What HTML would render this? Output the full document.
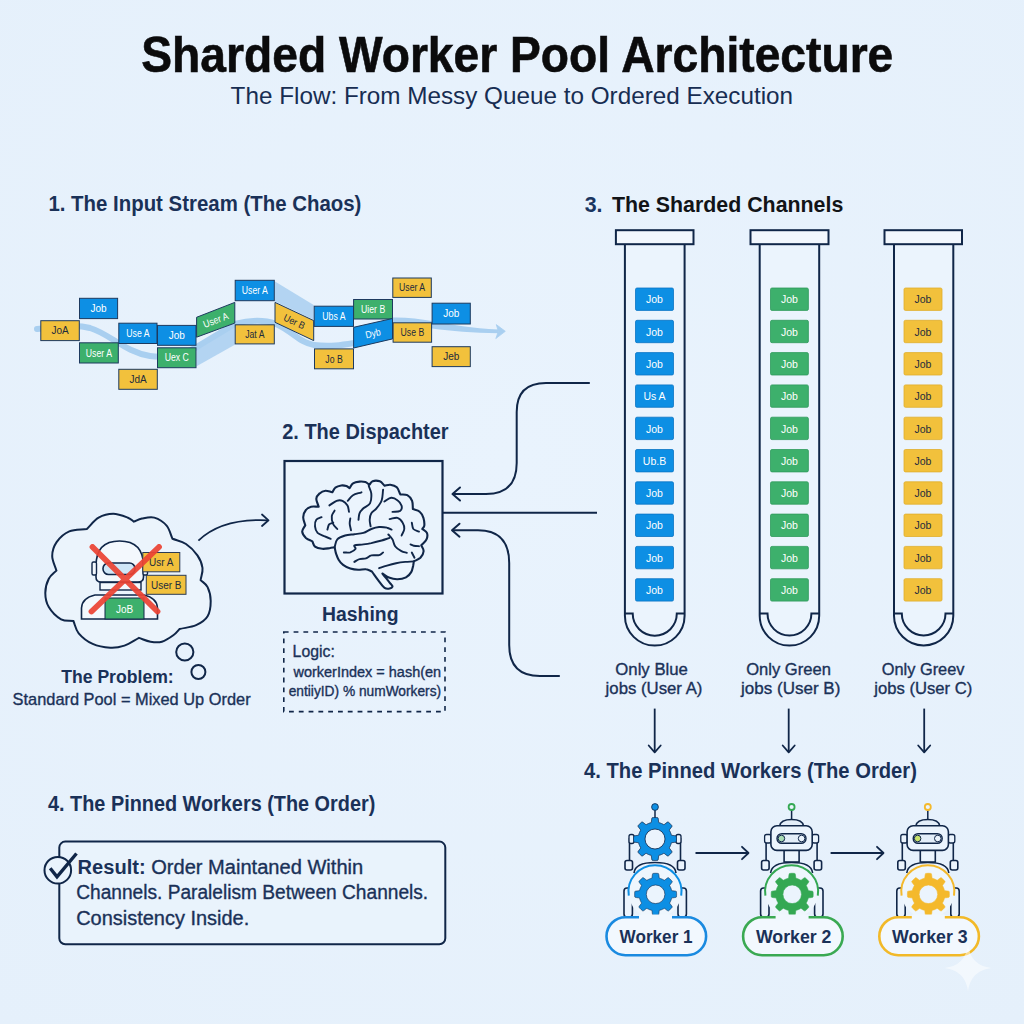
<!DOCTYPE html>
<html><head><meta charset="utf-8"><title>Sharded Worker Pool Architecture</title>
<style>
html,body{margin:0;padding:0;background:#e7f1fc;}
body{width:1024px;height:1024px;overflow:hidden;}
svg{display:block;font-family:"Liberation Sans",sans-serif;}
</style></head><body>
<svg width="1024" height="1024" viewBox="0 0 1024 1024">
<defs>
<radialGradient id="bgg" cx="50%" cy="45%" r="75%">
<stop offset="0" stop-color="#e9f3fd"/><stop offset="1" stop-color="#e5f0fb"/>
</radialGradient>
</defs>
<rect width="1024" height="1024" fill="url(#bgg)"/>

<text x="141.3" y="71.6" font-size="50.5" font-weight="700" fill="#0b0b0c" textLength="752.0" lengthAdjust="spacingAndGlyphs" stroke="#0b0b0c" stroke-width="0.6">Sharded Worker Pool Architecture</text>
<text x="230.6" y="104.4" font-size="24.5" font-weight="400" fill="#172d52" textLength="562.5" lengthAdjust="spacingAndGlyphs">The Flow: From Messy Queue to Ordered Execution</text>
<text x="48.4" y="211.4" font-size="21.5" font-weight="700" fill="#1a3158" textLength="313.0" lengthAdjust="spacingAndGlyphs">1. The Input Stream (The Chaos)</text>
<text x="584.7" y="211.9" font-size="22.5" font-weight="700" fill="#1a3560" textLength="17.8" lengthAdjust="spacingAndGlyphs">3.</text>
<text x="611.9" y="211.9" font-size="22.5" font-weight="700" fill="#121417" textLength="231.4" lengthAdjust="spacingAndGlyphs">The Sharded Channels</text>
<text x="282.2" y="438.6" font-size="22" font-weight="700" fill="#1a3158" textLength="166.4" lengthAdjust="spacingAndGlyphs">2. The Dispachter</text>
<text x="48" y="810.6" font-size="22" font-weight="700" fill="#1a3158" textLength="327.3" lengthAdjust="spacingAndGlyphs">4. The Pinned Workers (The Order)</text>
<text x="584.1" y="778.3" font-size="22" font-weight="700" fill="#1a3158" textLength="332.8" lengthAdjust="spacingAndGlyphs">4. The Pinned Workers (The Order)</text>
<path d="M196.6,347.2 L234.8,324.8 L234.8,344.7 L196.6,366.3Z" fill="#a9cff0" opacity="0.85"/>
<path d="M275,281.6 L313.7,304.9 L313.7,319.8 L275,301.5Z" fill="#a9cff0" opacity="0.85"/>
<path d="M37,329 C60,327 75,324 90,328 C110,334 125,352 150,356 C170,359 190,352 200,345 L234.8,324 C250,320 265,320 276,324 C292,331 300,343 314,345 C330,347 342,345 354,343" fill="none" stroke="#a9cff0" stroke-width="6" stroke-linecap="round"/>
<path d="M392,317.5 C405,317 420,319 432,321 C452,324.5 472,328.5 498.5,329.6 L498.5,333.2 C472,333 452,331 432,328.5 C420,327 405,325.5 392,325Z" fill="#a9cff0"/>
<path d="M496.3,324.6 L505.3,331.3 L495.8,338.6 L498.3,331.4Z" fill="#a9cff0" stroke="#a9cff0" stroke-width="0.8" stroke-linejoin="round"/>
<rect x="40.8" y="320.7" width="38.5" height="19.9" fill="#f2c13c" stroke="#1d3a5f" stroke-width="1"/>
<text x="60.0" y="334.2" font-size="10" font-weight="400" fill="#1d2b3d" text-anchor="middle">JoA</text>
<rect x="79.5" y="298.3" width="38.1" height="20.3" fill="#0d8fe4" stroke="#1d3a5f" stroke-width="1"/>
<text x="98.5" y="312.1" font-size="10" font-weight="400" fill="#fff" text-anchor="middle">Job</text>
<rect x="79.5" y="342.8" width="38.8" height="20.2" fill="#3db06c" stroke="#1d3a5f" stroke-width="1"/>
<text x="98.9" y="356.5" font-size="10" font-weight="400" fill="#fff" textLength="26.1" lengthAdjust="spacingAndGlyphs" text-anchor="middle">User A</text>
<rect x="118.8" y="323.2" width="38.2" height="20.3" fill="#0d8fe4" stroke="#1d3a5f" stroke-width="1"/>
<text x="137.9" y="337.0" font-size="10" font-weight="400" fill="#fff" textLength="23.2" lengthAdjust="spacingAndGlyphs" text-anchor="middle">Use A</text>
<rect x="118.8" y="369.3" width="38.5" height="20.0" fill="#f2c13c" stroke="#1d3a5f" stroke-width="1"/>
<text x="138.1" y="382.9" font-size="10" font-weight="400" fill="#1d2b3d" text-anchor="middle">JdA</text>
<rect x="157.5" y="325.4" width="38.5" height="19.9" fill="#0d8fe4" stroke="#1d3a5f" stroke-width="1"/>
<text x="176.8" y="339.0" font-size="10" font-weight="400" fill="#fff" text-anchor="middle">Job</text>
<rect x="157.5" y="347.8" width="38.5" height="19.9" fill="#3db06c" stroke="#1d3a5f" stroke-width="1"/>
<text x="176.8" y="361.4" font-size="10" font-weight="400" fill="#fff" textLength="24.2" lengthAdjust="spacingAndGlyphs" text-anchor="middle">Uex C</text>
<path d="M196.6,317.3 L234.8,302.4 L234.8,323.1 L196.6,337.2Z" fill="#3db06c" stroke="#1d3a5f" stroke-width="1"/>
<text x="215.7" y="323.6" font-size="10" fill="#fff" text-anchor="middle" textLength="26.1" lengthAdjust="spacingAndGlyphs" transform="rotate(-21.3 215.7 320.0)">User A</text>
<rect x="235.2" y="280.3" width="39.1" height="20.4" fill="#0d8fe4" stroke="#1d3a5f" stroke-width="1"/>
<text x="254.8" y="294.1" font-size="10" font-weight="400" fill="#fff" textLength="26.1" lengthAdjust="spacingAndGlyphs" text-anchor="middle">User A</text>
<rect x="235.2" y="324.8" width="39.1" height="19.1" fill="#f2c13c" stroke="#1d3a5f" stroke-width="1"/>
<text x="254.8" y="338.0" font-size="10" font-weight="400" fill="#1d2b3d" textLength="19.3" lengthAdjust="spacingAndGlyphs" text-anchor="middle">Jat A</text>
<path d="M275,302.4 L313.7,320.6 L313.7,340.6 L275,322.3Z" fill="#f2c13c" stroke="#1d3a5f" stroke-width="1"/>
<text x="294.4" y="325.1" font-size="10" fill="#1d2b3d" text-anchor="middle" textLength="22.2" lengthAdjust="spacingAndGlyphs" transform="rotate(25.2 294.4 321.5)">Uer B</text>
<rect x="314.2" y="306.2" width="39.3" height="20.2" fill="#0d8fe4" stroke="#1d3a5f" stroke-width="1"/>
<text x="333.9" y="319.9" font-size="10" font-weight="400" fill="#fff" textLength="23.2" lengthAdjust="spacingAndGlyphs" text-anchor="middle">Ubs A</text>
<rect x="314.5" y="348.9" width="39.0" height="19.9" fill="#f2c13c" stroke="#1d3a5f" stroke-width="1"/>
<text x="334.0" y="362.5" font-size="10" font-weight="400" fill="#1d2b3d" textLength="17.4" lengthAdjust="spacingAndGlyphs" text-anchor="middle">Jo B</text>
<rect x="353.6" y="299.5" width="38.9" height="19.5" fill="#3db06c" stroke="#1d3a5f" stroke-width="1"/>
<text x="373.1" y="312.9" font-size="10" font-weight="400" fill="#fff" textLength="24.2" lengthAdjust="spacingAndGlyphs" text-anchor="middle">Uier B</text>
<path d="M353.6,327.3 L392.5,318.5 L392.5,338.9 L353.6,348Z" fill="#0d8fe4" stroke="#1d3a5f" stroke-width="1"/>
<text x="373.0" y="336.8" font-size="10" fill="#fff" text-anchor="middle" textLength="15.5" lengthAdjust="spacingAndGlyphs" transform="rotate(-12.7 373.0 333.2)">Dyb</text>
<rect x="392.8" y="278" width="38.5" height="19.4" fill="#f2c13c" stroke="#1d3a5f" stroke-width="1"/>
<text x="412.1" y="291.3" font-size="10" font-weight="400" fill="#1d2b3d" textLength="26.1" lengthAdjust="spacingAndGlyphs" text-anchor="middle">User A</text>
<rect x="393.1" y="322.8" width="38.5" height="19.4" fill="#f2c13c" stroke="#1d3a5f" stroke-width="1"/>
<text x="412.4" y="336.1" font-size="10" font-weight="400" fill="#1d2b3d" textLength="23.7" lengthAdjust="spacingAndGlyphs" text-anchor="middle">Use B</text>
<rect x="432.1" y="303.2" width="38.2" height="20.8" fill="#0d8fe4" stroke="#1d3a5f" stroke-width="1"/>
<text x="451.2" y="317.2" font-size="10" font-weight="400" fill="#fff" text-anchor="middle">Job</text>
<rect x="432.1" y="346.7" width="38.2" height="19.9" fill="#f2c13c" stroke="#1d3a5f" stroke-width="1"/>
<text x="451.2" y="360.2" font-size="10" font-weight="400" fill="#1d2b3d" text-anchor="middle">Jeb</text>
<path d="M86.9,528.9 C90.8,525.2 94.2,520.2 98.6,517.7 C103.0,515.2 108.3,513.8 113.2,513.8 C118.1,513.8 124.5,516.4 127.9,517.7 C131.3,519.0 131.8,520.3 133.8,521.6 C136.5,520.6 138.6,519.3 142,518.6 C145.4,517.9 150.2,516.4 154.3,517.6 C158.4,518.8 163.6,522.1 166.6,525.6 C169.6,529.1 170.5,534.4 172.5,538.8 C177.0,540.5 181.8,541.2 186,544 C190.2,546.8 194.7,551.4 197.4,555.4 C200.2,559.4 202.0,563.9 202.5,568 C203.0,572.1 201.2,576.1 200.6,580.1 C202.9,582.4 205.9,583.6 207.6,587.1 C209.3,590.6 210.7,596.2 210.7,601.1 C210.7,606.0 210.0,612.3 207.6,616.3 C205.2,620.3 200.8,623.1 196.1,625.2 C191.4,627.3 185.1,627.7 179.6,629 C177.5,631.1 176.2,633.2 173.3,635.3 C170.4,637.4 165.7,640.6 161.9,641.7 C158.1,642.8 154.3,642.3 150.5,641.7 C146.7,641.1 142.8,639.2 139,637.9 C134.1,640.5 129.2,644.0 124.4,645.6 C119.6,647.2 115.6,648.0 110.3,647.7 C105.0,647.4 98.0,646.3 92.7,643.9 C87.4,641.5 81.9,637.1 78.7,633.3 C75.5,629.5 75.2,625.1 73.4,621 C69.3,620.4 65.2,621.6 61.1,619.3 C57.0,617.0 51.4,611.4 48.8,607 C46.2,602.6 45.3,597.6 45.3,592.9 C45.3,588.2 46.9,582.5 48.8,578.8 C50.6,575.1 53.9,573.3 56.4,570.6 C55.0,565.7 52.2,560.8 52.2,556 C52.2,551.2 53.8,546.2 56.6,542.1 C59.5,538.0 64.2,533.6 69.3,531.4 C74.3,529.2 81.0,529.7 86.9,528.9Z" fill="#ebf4fc" stroke="#102648" stroke-width="2" stroke-linejoin="miter"/>
<circle cx="184.8" cy="652" r="8.6" fill="none" stroke="#102648" stroke-width="2"/>
<circle cx="198.4" cy="672" r="7" fill="none" stroke="#102648" stroke-width="2"/>
<path d="M81.5,619 L81.5,608 Q82,598 95,595 L144,595 Q157,598 157.5,608 L157.5,619Z" fill="#f3f8fd" stroke="#102648" stroke-width="1.6"/>
<path d="M96,566 Q96,541 119.5,541 Q143.5,541 143.5,566 L143.5,577 Q143.5,582 138,582 L101,582 Q96,582 96,577Z" fill="#f3f8fd" stroke="#102648" stroke-width="1.6"/>
<rect x="103" y="563" width="32" height="11.5" rx="5.5" fill="#cfe6f7" stroke="#102648" stroke-width="1.6"/>
<rect x="92" y="562" width="4.5" height="13" rx="1.5" fill="#f3f8fd" stroke="#102648" stroke-width="1.4"/>
<rect x="143" y="562" width="4.5" height="13" rx="1.5" fill="#f3f8fd" stroke="#102648" stroke-width="1.4"/>
<rect x="100" y="582.5" width="41" height="7.5" fill="#f3f8fd" stroke="#102648" stroke-width="1.4"/>
<rect x="105" y="598" width="39" height="21" fill="#3db06c" stroke="#102648" stroke-width="1"/>
<text x="124.5" y="612.5" font-size="10" font-weight="400" fill="#fff" text-anchor="middle">JoB</text>
<rect x="142.8" y="552.5" width="37" height="19.3" fill="#f2c13c" stroke="#2a3b55" stroke-width="1"/>
<text x="161.3" y="566" font-size="10" font-weight="400" fill="#1d2b3d" text-anchor="middle">Usr A</text>
<rect x="146.3" y="575.3" width="39.7" height="19" fill="#f2c13c" stroke="#2a3b55" stroke-width="1"/>
<text x="166.2" y="588.8" font-size="10" font-weight="400" fill="#1d2b3d" text-anchor="middle">User B</text>
<g stroke="#ec4434" stroke-width="5.8" stroke-linecap="round" opacity="0.93"><line x1="92.5" y1="547" x2="157.5" y2="611.5"/><line x1="159" y1="547" x2="91.5" y2="611.5"/></g>
<text x="61.2" y="682.9" font-size="18" font-weight="700" fill="#1a3158" textLength="112.5" lengthAdjust="spacingAndGlyphs">The Problem:</text>
<text x="12.6" y="705" font-size="17" font-weight="400" fill="#1a3158" textLength="238.0" lengthAdjust="spacingAndGlyphs" stroke="#1a3158" stroke-width="0.35">Standard Pool = Mixed Up Order</text>
<path d="M198.4,540.6 Q222,518 268,520.3" fill="none" stroke="#102648" stroke-width="1.8"/>
<path d="M262,514.5 L268.5,520.3 L262,526" fill="none" stroke="#102648" stroke-width="1.8" stroke-linecap="round" stroke-linejoin="round"/>
<rect x="284.5" y="461" width="158" height="132.5" fill="#e9f3fc" stroke="#102648" stroke-width="2.2"/>
<text x="322" y="620.5" font-size="19.5" font-weight="700" fill="#1a3158" textLength="76.5" lengthAdjust="spacingAndGlyphs">Hashing</text>
<rect x="283.8" y="632" width="161.2" height="79.6" fill="none" stroke="#102648" stroke-width="1.6" stroke-dasharray="4.8 5"/>
<text x="292.6" y="656.7" font-size="16.5" font-weight="400" fill="#1a3158" textLength="42.2" lengthAdjust="spacingAndGlyphs" stroke="#1a3158" stroke-width="0.35">Logic:</text>
<text x="293.5" y="676.7" font-size="14" font-weight="400" fill="#1a3158" textLength="147.6" lengthAdjust="spacingAndGlyphs" stroke="#1a3158" stroke-width="0.35">workerIndex = hash(en</text>
<text x="288.7" y="696" font-size="14" font-weight="400" fill="#1a3158" textLength="152.4" lengthAdjust="spacingAndGlyphs" stroke="#1a3158" stroke-width="0.35">entiiyID) % numWorkers)</text>
<path d="M305.3,525.3 C304.6,522.6 303.1,519.7 303.2,517.2 C303.3,514.6 304.5,511.7 305.9,510.0 C307.2,508.2 308.9,507.3 311.1,506.7 C313.2,506.2 316.1,506.7 318.7,506.7 C317.9,504.1 316.2,501.1 316.3,498.9 C316.5,496.6 318.1,494.7 319.6,493.4 C321.1,492.0 323.4,490.9 325.5,490.7 C327.6,490.6 330.0,491.8 332.3,492.3 C333.3,490.8 333.8,488.9 335.3,487.7 C336.8,486.6 339.3,485.8 341.2,485.5 C343.0,485.2 345.0,485.6 346.4,486.0 C347.8,486.5 348.5,487.4 349.6,488.1 C350.7,486.6 351.3,484.5 353.0,483.4 C354.6,482.3 357.4,481.8 359.5,481.6 C361.6,481.4 363.7,481.6 365.4,482.1 C367.0,482.6 368.1,483.9 369.4,484.7 C370.5,483.6 370.9,481.8 372.6,481.2 C374.3,480.6 377.8,480.6 379.8,481.3 C381.8,482.1 383.0,484.3 384.6,485.8 C386.5,485.4 388.2,484.5 390.3,484.7 C392.3,485.0 395.1,485.7 396.8,487.3 C398.5,489.0 399.2,492.1 400.3,494.4 C402.6,494.7 405.3,494.1 407.3,495.2 C409.2,496.3 411.2,498.5 412.1,500.8 C413.0,503.1 412.6,506.3 412.9,509.1 C415.2,509.9 418.0,510.2 419.7,511.7 C421.4,513.1 422.6,515.5 423.4,517.8 C424.1,520.2 424.5,523.8 424.3,525.7 C424.1,527.5 423.0,527.9 422.3,529.0 C423.8,530.3 426.2,531.1 426.9,532.9 C427.6,534.6 427.4,537.4 426.5,539.4 C425.6,541.5 423.0,543.4 421.3,545.3 C422.1,547.3 423.8,549.1 423.6,551.2 C423.5,553.3 422.0,556.0 420.4,557.7 C418.7,559.4 416.0,560.2 413.8,561.4 C413.6,562.8 413.6,563.8 413.2,565.6 C412.7,567.4 412.4,570.2 411.2,572.1 C410.0,574.1 408.2,576.2 406.0,577.4 C403.7,578.6 400.3,579.3 397.5,579.3 C394.6,579.4 391.5,578.6 388.9,577.6 C386.4,576.7 384.6,574.8 382.4,573.5 C384.8,576.5 387.9,580.5 389.6,582.6 C391.3,584.7 392.5,585.3 392.5,586.3 C392.5,587.3 390.9,588.2 389.6,588.5 C388.3,588.8 386.5,589.2 384.6,587.8 C382.8,586.5 380.6,583.4 378.5,580.6 C376.4,577.9 374.1,574.5 371.9,571.5 C370.0,570.7 368.3,569.5 366.0,569.3 C363.8,569.0 360.8,569.9 358.2,569.8 C355.6,569.7 352.9,569.3 350.3,568.5 C347.8,567.7 345.1,566.4 343.1,564.9 C341.2,563.5 339.8,561.7 338.6,559.7 C337.4,557.7 336.6,555.2 335.9,553.2 C335.3,551.1 335.1,549.2 334.6,547.3 C332.9,547.6 331.5,547.9 329.4,548.2 C327.3,548.5 324.6,549.1 322.2,548.8 C319.8,548.6 316.6,547.9 315.0,546.6 C313.4,545.4 313.3,543.1 312.4,541.4 C310.2,540.2 307.6,539.5 305.9,537.9 C304.2,536.2 302.3,533.7 302.2,531.6 C302.1,529.5 304.3,527.4 305.3,525.3Z" fill="#ebf4fd" stroke="#102648" stroke-width="2.1" stroke-linejoin="round"/>
<path d="M334.6,547.3 C335.5,544.7 335.5,541.4 337.3,539.4 C339.0,537.5 342.3,536.4 345.1,535.5 C347.9,534.6 351.2,534.6 354.3,534.2 C357.3,533.8 360.6,533.8 363.4,532.9 C366.3,532.0 368.7,529.9 371.3,529.0 C373.9,528.0 376.5,527.2 379.1,527.0 C381.7,526.8 384.9,527.2 387.0,527.7 C389.1,528.1 390.0,529.0 391.6,529.6" fill="none" stroke="#102648" stroke-width="1.9" stroke-linecap="round"/>
<path d="M379.1,568.2 C381.7,567.3 384.1,566.4 387.0,565.6 C389.8,564.8 393.1,563.9 396.1,563.2 C399.2,562.6 402.4,562.2 405.3,561.9 C408.2,561.6 411.0,561.6 413.8,561.4" fill="none" stroke="#102648" stroke-width="1.9" stroke-linecap="round"/>
<path d="M343.8,552.5 C346.0,552.4 348.4,552.9 350.3,552.3 C352.3,551.6 354.9,550.0 355.6,548.8 C356.3,547.7 353.2,546.1 354.5,545.3 C355.8,544.6 360.6,544.8 363.4,544.4 C366.2,544.0 368.2,543.7 371.3,543.1 C374.3,542.4 378.7,541.3 381.7,540.5 C384.8,539.6 387.0,538.7 389.6,537.9" fill="none" stroke="#102648" stroke-width="1.9" stroke-linecap="round"/>
<path d="M354.3,561.9 C356.0,561.0 357.5,559.6 359.5,559.1 C361.5,558.5 364.1,559.0 366.0,558.4 C368.0,557.8 369.1,555.9 371.3,555.4 C373.5,554.8 377.2,555.6 379.1,555.1 C381.1,554.7 381.7,553.4 383.1,552.5" fill="none" stroke="#102648" stroke-width="1.9" stroke-linecap="round"/>
<path d="M368.7,485.8 C369.5,488.4 371.1,490.7 371.3,493.6 C371.5,496.6 371.3,501.0 370.0,503.4 C368.7,505.9 365.2,506.6 363.4,508.3 C361.7,509.9 360.3,511.3 359.5,513.3 C358.7,515.2 358.8,517.6 358.5,519.8" fill="none" stroke="#102648" stroke-width="1.9" stroke-linecap="round"/>
<path d="M383.1,489.7 C382.6,493.2 382.8,497.1 381.7,500.2 C380.7,503.3 378.3,506.1 376.5,508.3 C374.8,510.5 372.4,511.3 371.3,513.3 C370.1,515.2 369.8,517.6 369.7,519.8 C369.6,522.0 370.3,524.2 370.6,526.3" fill="none" stroke="#102648" stroke-width="1.9" stroke-linecap="round"/>
<path d="M321.6,517.2 C319.8,518.1 317.4,518.3 316.3,519.8 C315.2,521.3 314.8,524.2 315.0,526.3 C315.2,528.5 316.1,531.2 317.6,532.9 C319.2,534.5 322.0,535.2 324.2,536.2 C326.4,537.1 328.5,537.9 330.7,538.8" fill="none" stroke="#102648" stroke-width="1.9" stroke-linecap="round"/>
<path d="M334.6,510.6 C333.7,512.5 332.0,513.9 331.8,516.1 C331.5,518.4 332.2,521.8 333.1,524.0 C334.0,526.1 335.9,527.3 337.3,529.0" fill="none" stroke="#102648" stroke-width="1.9" stroke-linecap="round"/>
<path d="M327.4,529.6 C328.0,527.9 328.2,525.5 329.1,524.4 C330.1,523.2 331.9,523.2 333.3,522.7" fill="none" stroke="#102648" stroke-width="1.9" stroke-linecap="round"/>
<path d="M347.7,500.8 C349.5,498.9 350.7,496.6 353.0,495.2 C355.2,493.8 358.6,493.3 361.5,492.3" fill="none" stroke="#102648" stroke-width="1.9" stroke-linecap="round"/>
<path d="M329.4,505.4 C331.8,503.9 334.4,501.6 336.6,500.8 C338.8,500.1 340.7,500.1 342.5,500.8 C344.3,501.6 346.4,503.6 347.5,505.4 C348.6,507.3 348.5,509.8 349.0,511.9" fill="none" stroke="#102648" stroke-width="1.9" stroke-linecap="round"/>
<path d="M350.3,518.5 C350.1,520.2 349.6,521.8 349.7,523.7 C349.8,525.7 350.6,528.1 351.0,530.3" fill="none" stroke="#102648" stroke-width="1.9" stroke-linecap="round"/>
<path d="M384.4,501.5 C386.6,500.3 388.9,498.0 391.2,497.8 C393.4,497.6 396.0,499.1 397.7,500.4 C399.5,501.7 401.2,503.9 401.6,505.7 C402.0,507.4 401.6,509.9 400.1,510.9 C398.5,511.9 395.0,511.6 392.5,511.9" fill="none" stroke="#102648" stroke-width="1.9" stroke-linecap="round"/>
<path d="M389.6,519.1 C392.2,518.7 395.3,517.2 397.5,517.8 C399.6,518.4 401.6,520.8 402.7,522.7 C403.8,524.5 404.4,526.8 404.3,529.0 C404.1,531.1 402.5,533.3 401.6,535.5" fill="none" stroke="#102648" stroke-width="1.9" stroke-linecap="round"/>
<path d="M411.8,522.7 C412.4,524.8 412.2,527.5 413.4,529.0 C414.6,530.4 417.2,530.7 419.0,531.6" fill="none" stroke="#102648" stroke-width="1.9" stroke-linecap="round"/>
<path d="M388.3,534.5 C389.7,536.1 391.3,537.5 392.5,539.4 C393.6,541.4 393.6,544.3 395.1,546.2 C396.6,548.2 399.4,550.1 401.4,551.2 C403.3,552.3 405.0,552.3 406.9,552.8" fill="none" stroke="#102648" stroke-width="1.9" stroke-linecap="round"/>
<path d="M410.5,544.4 C411.6,544.8 412.4,545.4 413.8,545.7 C415.2,546.0 417.3,546.1 419.0,546.2" fill="none" stroke="#102648" stroke-width="1.9" stroke-linecap="round"/>
<path d="M411.8,552.5 C412.7,554.3 413.6,556.0 414.5,557.7" fill="none" stroke="#102648" stroke-width="1.9" stroke-linecap="round"/>
<path d="M589.8,383 L546,383 Q516.7,383 516.7,412 L516.7,463 Q516.7,494 486,494 L453,494" fill="none" stroke="#102648" stroke-width="2"/>
<path d="M460,487.5 L452.5,494 L460,500.5" fill="none" stroke="#102648" stroke-width="2" stroke-linecap="round" stroke-linejoin="round"/>
<line x1="443" y1="512.8" x2="597" y2="512.8" stroke="#102648" stroke-width="2"/>
<path d="M559.8,676 L540,676 Q509.2,676 509.2,645 L509.2,563 Q509.2,530.2 478,530.2 L452,530.2" fill="none" stroke="#102648" stroke-width="2"/>
<path d="M459.5,523.7 L452,530.2 L459.5,536.7" fill="none" stroke="#102648" stroke-width="2" stroke-linecap="round" stroke-linejoin="round"/>
<path d="M624.9,244 L624.9,615.8 A29.85,29.85 0 0 0 684.6,615.8 L684.6,244Z" fill="#ebf4fd" stroke="#102648" stroke-width="2"/>
<path d="M624.9,613.6 L632.70,613.6 A22.05,22.05 0 0 0 676.80,613.6 L684.6,613.6" fill="none" stroke="#102648" stroke-width="2"/>
<rect x="615.9" y="230.2" width="77.6" height="14" fill="#f2f7fd" stroke="#102648" stroke-width="2"/>
<rect x="635.5" y="288.0" width="38.0" height="22.4" rx="1.5" fill="#0d8fe4" stroke="#0a74c4" stroke-width="0.8"/>
<text x="654.5" y="303.3" font-size="10.5" font-weight="400" fill="#fff" text-anchor="middle">Job</text>
<rect x="635.5" y="320.3" width="38.0" height="22.4" rx="1.5" fill="#0d8fe4" stroke="#0a74c4" stroke-width="0.8"/>
<text x="654.5" y="335.6" font-size="10.5" font-weight="400" fill="#fff" text-anchor="middle">Job</text>
<rect x="635.5" y="352.6" width="38.0" height="22.4" rx="1.5" fill="#0d8fe4" stroke="#0a74c4" stroke-width="0.8"/>
<text x="654.5" y="367.9" font-size="10.5" font-weight="400" fill="#fff" text-anchor="middle">Job</text>
<rect x="635.5" y="384.9" width="38.0" height="22.4" rx="1.5" fill="#0d8fe4" stroke="#0a74c4" stroke-width="0.8"/>
<text x="654.5" y="400.2" font-size="10.5" font-weight="400" fill="#fff" text-anchor="middle">Us A</text>
<rect x="635.5" y="417.2" width="38.0" height="22.4" rx="1.5" fill="#0d8fe4" stroke="#0a74c4" stroke-width="0.8"/>
<text x="654.5" y="432.5" font-size="10.5" font-weight="400" fill="#fff" text-anchor="middle">Job</text>
<rect x="635.5" y="449.5" width="38.0" height="22.4" rx="1.5" fill="#0d8fe4" stroke="#0a74c4" stroke-width="0.8"/>
<text x="654.5" y="464.8" font-size="10.5" font-weight="400" fill="#fff" text-anchor="middle">Ub.B</text>
<rect x="635.5" y="481.8" width="38.0" height="22.4" rx="1.5" fill="#0d8fe4" stroke="#0a74c4" stroke-width="0.8"/>
<text x="654.5" y="497.1" font-size="10.5" font-weight="400" fill="#fff" text-anchor="middle">Job</text>
<rect x="635.5" y="514.1" width="38.0" height="22.4" rx="1.5" fill="#0d8fe4" stroke="#0a74c4" stroke-width="0.8"/>
<text x="654.5" y="529.4" font-size="10.5" font-weight="400" fill="#fff" text-anchor="middle">Job</text>
<rect x="635.5" y="546.4" width="38.0" height="22.4" rx="1.5" fill="#0d8fe4" stroke="#0a74c4" stroke-width="0.8"/>
<text x="654.5" y="561.7" font-size="10.5" font-weight="400" fill="#fff" text-anchor="middle">Job</text>
<rect x="635.5" y="578.7" width="38.0" height="22.4" rx="1.5" fill="#0d8fe4" stroke="#0a74c4" stroke-width="0.8"/>
<text x="654.5" y="594.0" font-size="10.5" font-weight="400" fill="#fff" text-anchor="middle">Job</text>
<path d="M759.7,244 L759.7,615.8 A29.75,29.75 0 0 0 819.2,615.8 L819.2,244Z" fill="#ebf4fd" stroke="#102648" stroke-width="2"/>
<path d="M759.7,613.6 L767.50,613.6 A21.95,21.95 0 0 0 811.40,613.6 L819.2,613.6" fill="none" stroke="#102648" stroke-width="2"/>
<rect x="750.5" y="230.2" width="78.0" height="14" fill="#f2f7fd" stroke="#102648" stroke-width="2"/>
<rect x="770.5" y="288.0" width="37.9" height="22.4" rx="1.5" fill="#3db06c" stroke="#2f9a5c" stroke-width="0.8"/>
<text x="789.5" y="303.3" font-size="10.5" font-weight="400" fill="#fff" text-anchor="middle">Job</text>
<rect x="770.5" y="320.3" width="37.9" height="22.4" rx="1.5" fill="#3db06c" stroke="#2f9a5c" stroke-width="0.8"/>
<text x="789.5" y="335.6" font-size="10.5" font-weight="400" fill="#fff" text-anchor="middle">Job</text>
<rect x="770.5" y="352.6" width="37.9" height="22.4" rx="1.5" fill="#3db06c" stroke="#2f9a5c" stroke-width="0.8"/>
<text x="789.5" y="367.9" font-size="10.5" font-weight="400" fill="#fff" text-anchor="middle">Job</text>
<rect x="770.5" y="384.9" width="37.9" height="22.4" rx="1.5" fill="#3db06c" stroke="#2f9a5c" stroke-width="0.8"/>
<text x="789.5" y="400.2" font-size="10.5" font-weight="400" fill="#fff" text-anchor="middle">Job</text>
<rect x="770.5" y="417.2" width="37.9" height="22.4" rx="1.5" fill="#3db06c" stroke="#2f9a5c" stroke-width="0.8"/>
<text x="789.5" y="432.5" font-size="10.5" font-weight="400" fill="#fff" text-anchor="middle">Job</text>
<rect x="770.5" y="449.5" width="37.9" height="22.4" rx="1.5" fill="#3db06c" stroke="#2f9a5c" stroke-width="0.8"/>
<text x="789.5" y="464.8" font-size="10.5" font-weight="400" fill="#fff" text-anchor="middle">Job</text>
<rect x="770.5" y="481.8" width="37.9" height="22.4" rx="1.5" fill="#3db06c" stroke="#2f9a5c" stroke-width="0.8"/>
<text x="789.5" y="497.1" font-size="10.5" font-weight="400" fill="#fff" text-anchor="middle">Job</text>
<rect x="770.5" y="514.1" width="37.9" height="22.4" rx="1.5" fill="#3db06c" stroke="#2f9a5c" stroke-width="0.8"/>
<text x="789.5" y="529.4" font-size="10.5" font-weight="400" fill="#fff" text-anchor="middle">Job</text>
<rect x="770.5" y="546.4" width="37.9" height="22.4" rx="1.5" fill="#3db06c" stroke="#2f9a5c" stroke-width="0.8"/>
<text x="789.5" y="561.7" font-size="10.5" font-weight="400" fill="#fff" text-anchor="middle">Job</text>
<rect x="770.5" y="578.7" width="37.9" height="22.4" rx="1.5" fill="#3db06c" stroke="#2f9a5c" stroke-width="0.8"/>
<text x="789.5" y="594.0" font-size="10.5" font-weight="400" fill="#fff" text-anchor="middle">Job</text>
<path d="M894,244 L894,615.8 A29.65,29.65 0 0 0 953.3,615.8 L953.3,244Z" fill="#ebf4fd" stroke="#102648" stroke-width="2"/>
<path d="M894,613.6 L901.80,613.6 A21.85,21.85 0 0 0 945.50,613.6 L953.3,613.6" fill="none" stroke="#102648" stroke-width="2"/>
<rect x="884.5" y="230.2" width="77.5" height="14" fill="#f2f7fd" stroke="#102648" stroke-width="2"/>
<rect x="904" y="288.0" width="38.0" height="22.4" rx="1.5" fill="#f2c13c" stroke="#e0ad2c" stroke-width="0.8"/>
<text x="923.0" y="303.3" font-size="10.5" font-weight="400" fill="#1d2b3d" text-anchor="middle">Job</text>
<rect x="904" y="320.3" width="38.0" height="22.4" rx="1.5" fill="#f2c13c" stroke="#e0ad2c" stroke-width="0.8"/>
<text x="923.0" y="335.6" font-size="10.5" font-weight="400" fill="#1d2b3d" text-anchor="middle">Job</text>
<rect x="904" y="352.6" width="38.0" height="22.4" rx="1.5" fill="#f2c13c" stroke="#e0ad2c" stroke-width="0.8"/>
<text x="923.0" y="367.9" font-size="10.5" font-weight="400" fill="#1d2b3d" text-anchor="middle">Job</text>
<rect x="904" y="384.9" width="38.0" height="22.4" rx="1.5" fill="#f2c13c" stroke="#e0ad2c" stroke-width="0.8"/>
<text x="923.0" y="400.2" font-size="10.5" font-weight="400" fill="#1d2b3d" text-anchor="middle">Job</text>
<rect x="904" y="417.2" width="38.0" height="22.4" rx="1.5" fill="#f2c13c" stroke="#e0ad2c" stroke-width="0.8"/>
<text x="923.0" y="432.5" font-size="10.5" font-weight="400" fill="#1d2b3d" text-anchor="middle">Job</text>
<rect x="904" y="449.5" width="38.0" height="22.4" rx="1.5" fill="#f2c13c" stroke="#e0ad2c" stroke-width="0.8"/>
<text x="923.0" y="464.8" font-size="10.5" font-weight="400" fill="#1d2b3d" text-anchor="middle">Job</text>
<rect x="904" y="481.8" width="38.0" height="22.4" rx="1.5" fill="#f2c13c" stroke="#e0ad2c" stroke-width="0.8"/>
<text x="923.0" y="497.1" font-size="10.5" font-weight="400" fill="#1d2b3d" text-anchor="middle">Job</text>
<rect x="904" y="514.1" width="38.0" height="22.4" rx="1.5" fill="#f2c13c" stroke="#e0ad2c" stroke-width="0.8"/>
<text x="923.0" y="529.4" font-size="10.5" font-weight="400" fill="#1d2b3d" text-anchor="middle">Job</text>
<rect x="904" y="546.4" width="38.0" height="22.4" rx="1.5" fill="#f2c13c" stroke="#e0ad2c" stroke-width="0.8"/>
<text x="923.0" y="561.7" font-size="10.5" font-weight="400" fill="#1d2b3d" text-anchor="middle">Job</text>
<rect x="904" y="578.7" width="38.0" height="22.4" rx="1.5" fill="#f2c13c" stroke="#e0ad2c" stroke-width="0.8"/>
<text x="923.0" y="594.0" font-size="10.5" font-weight="400" fill="#1d2b3d" text-anchor="middle">Job</text>
<text x="615.3000000000001" y="675.4" font-size="17" font-weight="400" fill="#1a3158" textLength="72.6" lengthAdjust="spacingAndGlyphs" stroke="#1a3158" stroke-width="0.35">Only Blue</text>
<text x="605.6" y="694.1" font-size="17" font-weight="400" fill="#1a3158" textLength="96.8" lengthAdjust="spacingAndGlyphs" stroke="#1a3158" stroke-width="0.35">jobs (User A)</text>
<text x="746.2" y="675.4" font-size="17" font-weight="400" fill="#1a3158" textLength="84.7" lengthAdjust="spacingAndGlyphs" stroke="#1a3158" stroke-width="0.35">Only Green</text>
<text x="741.1" y="694.1" font-size="17" font-weight="400" fill="#1a3158" textLength="99.2" lengthAdjust="spacingAndGlyphs" stroke="#1a3158" stroke-width="0.35">jobs (User B)</text>
<text x="881.7" y="675.4" font-size="17" font-weight="400" fill="#1a3158" textLength="82.8" lengthAdjust="spacingAndGlyphs" stroke="#1a3158" stroke-width="0.35">Only Greev</text>
<text x="874.3000000000001" y="694.1" font-size="17" font-weight="400" fill="#1a3158" textLength="98.0" lengthAdjust="spacingAndGlyphs" stroke="#1a3158" stroke-width="0.35">jobs (User C)</text>
<line x1="654.7" y1="708.6" x2="654.7" y2="752" stroke="#102648" stroke-width="1.8"/>
<path d="M648.7,745.5 L654.7,752.3 L660.7,745.5" fill="none" stroke="#102648" stroke-width="1.8" stroke-linecap="round" stroke-linejoin="round"/>
<line x1="788.7" y1="708.6" x2="788.7" y2="752" stroke="#102648" stroke-width="1.8"/>
<path d="M782.7,745.5 L788.7,752.3 L794.7,745.5" fill="none" stroke="#102648" stroke-width="1.8" stroke-linecap="round" stroke-linejoin="round"/>
<line x1="924.2" y1="708.6" x2="924.2" y2="752" stroke="#102648" stroke-width="1.8"/>
<path d="M918.2,745.5 L924.2,752.3 L930.2,745.5" fill="none" stroke="#102648" stroke-width="1.8" stroke-linecap="round" stroke-linejoin="round"/>
<rect x="624" y="888" width="8.4" height="29" rx="3" fill="#ebf4fd" stroke="#102648" stroke-width="1.6"/>
<rect x="678" y="888" width="8.4" height="29" rx="3" fill="#ebf4fd" stroke="#102648" stroke-width="1.6"/>
<path d="M634,873 Q635,862.5 655,862.5 Q675,862.5 676,873" fill="#ebf4fd" stroke="#102648" stroke-width="1.6"/>
<circle cx="655" cy="892.0" r="26.5" fill="#eef6fd"/>
<path d="M628.8,895.7 A26.5,26.5 0 1 1 681.2,895.7" fill="none" stroke="#0d8fe4" stroke-width="2"/>
<line x1="629.5" y1="838" x2="629.5" y2="861" stroke="#102648" stroke-width="1.6"/>
<rect x="625" y="860.5" width="7.5" height="9.5" rx="2" fill="#ebf4fd" stroke="#102648" stroke-width="1.6"/>
<line x1="680.5" y1="838" x2="680.5" y2="861" stroke="#102648" stroke-width="1.6"/>
<rect x="677.5" y="860.5" width="7.5" height="9.5" rx="2" fill="#ebf4fd" stroke="#102648" stroke-width="1.6"/>
<line x1="655" y1="810" x2="655" y2="818" stroke="#102648" stroke-width="1.5"/>
<circle cx="655" cy="807" r="3.4" fill="#0d8fe4" stroke="#102648" stroke-width="0.8"/>
<rect x="629" y="834.5" width="5" height="9" rx="2" fill="#ebf4fd" stroke="#102648" stroke-width="1.3"/>
<rect x="676" y="834.5" width="5" height="9" rx="2" fill="#ebf4fd" stroke="#102648" stroke-width="1.3"/>
<path d="M676.50,839.00 L676.50,839.28 L676.49,839.56 L676.48,839.84 L676.47,840.13 L676.45,840.41 L676.43,840.69 L676.41,840.97 L676.38,841.25 L676.35,841.53 L676.29,841.80 L675.93,842.04 L675.31,842.22 L674.53,842.36 L673.66,842.46 L672.82,842.54 L672.09,842.63 L671.57,842.75 L671.34,842.92 L671.28,843.14 L671.23,843.35 L671.17,843.56 L671.11,843.77 L671.04,843.98 L670.98,844.19 L670.91,844.40 L670.84,844.61 L670.76,844.81 L670.68,845.02 L670.60,845.23 L670.52,845.43 L670.44,845.63 L670.35,845.83 L670.26,846.03 L670.16,846.23 L670.07,846.43 L669.97,846.63 L669.87,846.82 L669.76,847.02 L669.66,847.21 L669.55,847.40 L669.44,847.59 L669.32,847.78 L669.36,848.06 L669.65,848.52 L670.11,849.09 L670.64,849.75 L671.18,850.44 L671.64,851.09 L671.95,851.66 L672.03,852.07 L671.88,852.31 L671.71,852.53 L671.53,852.75 L671.35,852.96 L671.16,853.18 L670.98,853.39 L670.79,853.59 L670.60,853.80 L670.40,854.00 L670.20,854.20 L670.00,854.40 L669.80,854.60 L669.59,854.79 L669.39,854.98 L669.18,855.16 L668.96,855.35 L668.75,855.53 L668.53,855.71 L668.31,855.88 L668.07,856.03 L667.66,855.95 L667.09,855.64 L666.44,855.18 L665.75,854.64 L665.09,854.11 L664.52,853.65 L664.06,853.36 L663.78,853.32 L663.59,853.44 L663.40,853.55 L663.21,853.66 L663.02,853.76 L662.82,853.87 L662.63,853.97 L662.43,854.07 L662.23,854.16 L662.03,854.26 L661.83,854.35 L661.63,854.44 L661.43,854.52 L661.23,854.60 L661.02,854.68 L660.81,854.76 L660.61,854.84 L660.40,854.91 L660.19,854.98 L659.98,855.04 L659.77,855.11 L659.56,855.17 L659.35,855.23 L659.14,855.28 L658.92,855.34 L658.75,855.57 L658.63,856.09 L658.54,856.82 L658.46,857.66 L658.36,858.53 L658.22,859.31 L658.04,859.93 L657.80,860.29 L657.53,860.35 L657.25,860.38 L656.97,860.41 L656.69,860.43 L656.41,860.45 L656.13,860.47 L655.84,860.48 L655.56,860.49 L655.28,860.50 L655.00,860.50 L654.72,860.50 L654.44,860.49 L654.16,860.48 L653.87,860.47 L653.59,860.45 L653.31,860.43 L653.03,860.41 L652.75,860.38 L652.47,860.35 L652.20,860.29 L651.96,859.93 L651.78,859.31 L651.64,858.53 L651.54,857.66 L651.46,856.82 L651.37,856.09 L651.25,855.57 L651.08,855.34 L650.86,855.28 L650.65,855.23 L650.44,855.17 L650.23,855.11 L650.02,855.04 L649.81,854.98 L649.60,854.91 L649.39,854.84 L649.19,854.76 L648.98,854.68 L648.77,854.60 L648.57,854.52 L648.37,854.44 L648.17,854.35 L647.97,854.26 L647.77,854.16 L647.57,854.07 L647.37,853.97 L647.18,853.87 L646.98,853.76 L646.79,853.66 L646.60,853.55 L646.41,853.44 L646.22,853.32 L645.94,853.36 L645.48,853.65 L644.91,854.11 L644.25,854.64 L643.56,855.18 L642.91,855.64 L642.34,855.95 L641.93,856.03 L641.69,855.88 L641.47,855.71 L641.25,855.53 L641.04,855.35 L640.82,855.16 L640.61,854.98 L640.41,854.79 L640.20,854.60 L640.00,854.40 L639.80,854.20 L639.60,854.00 L639.40,853.80 L639.21,853.59 L639.02,853.39 L638.84,853.18 L638.65,852.96 L638.47,852.75 L638.29,852.53 L638.12,852.31 L637.97,852.07 L638.05,851.66 L638.36,851.09 L638.82,850.44 L639.36,849.75 L639.89,849.09 L640.35,848.52 L640.64,848.06 L640.68,847.78 L640.56,847.59 L640.45,847.40 L640.34,847.21 L640.24,847.02 L640.13,846.82 L640.03,846.63 L639.93,846.43 L639.84,846.23 L639.74,846.03 L639.65,845.83 L639.56,845.63 L639.48,845.43 L639.40,845.23 L639.32,845.02 L639.24,844.81 L639.16,844.61 L639.09,844.40 L639.02,844.19 L638.96,843.98 L638.89,843.77 L638.83,843.56 L638.77,843.35 L638.72,843.14 L638.66,842.92 L638.43,842.75 L637.91,842.63 L637.18,842.54 L636.34,842.46 L635.47,842.36 L634.69,842.22 L634.07,842.04 L633.71,841.80 L633.65,841.53 L633.62,841.25 L633.59,840.97 L633.57,840.69 L633.55,840.41 L633.53,840.13 L633.52,839.84 L633.51,839.56 L633.50,839.28 L633.50,839.00 L633.50,838.72 L633.51,838.44 L633.52,838.16 L633.53,837.87 L633.55,837.59 L633.57,837.31 L633.59,837.03 L633.62,836.75 L633.65,836.47 L633.71,836.20 L634.07,835.96 L634.69,835.78 L635.47,835.64 L636.34,835.54 L637.18,835.46 L637.91,835.37 L638.43,835.25 L638.66,835.08 L638.72,834.86 L638.77,834.65 L638.83,834.44 L638.89,834.23 L638.96,834.02 L639.02,833.81 L639.09,833.60 L639.16,833.39 L639.24,833.19 L639.32,832.98 L639.40,832.77 L639.48,832.57 L639.56,832.37 L639.65,832.17 L639.74,831.97 L639.84,831.77 L639.93,831.57 L640.03,831.37 L640.13,831.18 L640.24,830.98 L640.34,830.79 L640.45,830.60 L640.56,830.41 L640.68,830.22 L640.64,829.94 L640.35,829.48 L639.89,828.91 L639.36,828.25 L638.82,827.56 L638.36,826.91 L638.05,826.34 L637.97,825.93 L638.12,825.69 L638.29,825.47 L638.47,825.25 L638.65,825.04 L638.84,824.82 L639.02,824.61 L639.21,824.41 L639.40,824.20 L639.60,824.00 L639.80,823.80 L640.00,823.60 L640.20,823.40 L640.41,823.21 L640.61,823.02 L640.82,822.84 L641.04,822.65 L641.25,822.47 L641.47,822.29 L641.69,822.12 L641.93,821.97 L642.34,822.05 L642.91,822.36 L643.56,822.82 L644.25,823.36 L644.91,823.89 L645.48,824.35 L645.94,824.64 L646.22,824.68 L646.41,824.56 L646.60,824.45 L646.79,824.34 L646.98,824.24 L647.18,824.13 L647.37,824.03 L647.57,823.93 L647.77,823.84 L647.97,823.74 L648.17,823.65 L648.37,823.56 L648.57,823.48 L648.77,823.40 L648.98,823.32 L649.19,823.24 L649.39,823.16 L649.60,823.09 L649.81,823.02 L650.02,822.96 L650.23,822.89 L650.44,822.83 L650.65,822.77 L650.86,822.72 L651.08,822.66 L651.25,822.43 L651.37,821.91 L651.46,821.18 L651.54,820.34 L651.64,819.47 L651.78,818.69 L651.96,818.07 L652.20,817.71 L652.47,817.65 L652.75,817.62 L653.03,817.59 L653.31,817.57 L653.59,817.55 L653.87,817.53 L654.16,817.52 L654.44,817.51 L654.72,817.50 L655.00,817.50 L655.28,817.50 L655.56,817.51 L655.84,817.52 L656.13,817.53 L656.41,817.55 L656.69,817.57 L656.97,817.59 L657.25,817.62 L657.53,817.65 L657.80,817.71 L658.04,818.07 L658.22,818.69 L658.36,819.47 L658.46,820.34 L658.54,821.18 L658.63,821.91 L658.75,822.43 L658.92,822.66 L659.14,822.72 L659.35,822.77 L659.56,822.83 L659.77,822.89 L659.98,822.96 L660.19,823.02 L660.40,823.09 L660.61,823.16 L660.81,823.24 L661.02,823.32 L661.23,823.40 L661.43,823.48 L661.63,823.56 L661.83,823.65 L662.03,823.74 L662.23,823.84 L662.43,823.93 L662.63,824.03 L662.82,824.13 L663.02,824.24 L663.21,824.34 L663.40,824.45 L663.59,824.56 L663.78,824.68 L664.06,824.64 L664.52,824.35 L665.09,823.89 L665.75,823.36 L666.44,822.82 L667.09,822.36 L667.66,822.05 L668.07,821.97 L668.31,822.12 L668.53,822.29 L668.75,822.47 L668.96,822.65 L669.18,822.84 L669.39,823.02 L669.59,823.21 L669.80,823.40 L670.00,823.60 L670.20,823.80 L670.40,824.00 L670.60,824.20 L670.79,824.41 L670.98,824.61 L671.16,824.82 L671.35,825.04 L671.53,825.25 L671.71,825.47 L671.88,825.69 L672.03,825.93 L671.95,826.34 L671.64,826.91 L671.18,827.56 L670.64,828.25 L670.11,828.91 L669.65,829.48 L669.36,829.94 L669.32,830.22 L669.44,830.41 L669.55,830.60 L669.66,830.79 L669.76,830.98 L669.87,831.18 L669.97,831.37 L670.07,831.57 L670.16,831.77 L670.26,831.97 L670.35,832.17 L670.44,832.37 L670.52,832.57 L670.60,832.77 L670.68,832.98 L670.76,833.19 L670.84,833.39 L670.91,833.60 L670.98,833.81 L671.04,834.02 L671.11,834.23 L671.17,834.44 L671.23,834.65 L671.28,834.86 L671.34,835.08 L671.57,835.25 L672.09,835.37 L672.82,835.46 L673.66,835.54 L674.53,835.64 L675.31,835.78 L675.93,835.96 L676.29,836.20 L676.35,836.47 L676.38,836.75 L676.41,837.03 L676.43,837.31 L676.45,837.59 L676.47,837.87 L676.48,838.16 L676.49,838.44 L676.50,838.72Z" fill="#0d8fe4" stroke="#102648" stroke-width="0.8" stroke-linejoin="round"/>
<circle cx="655" cy="839" r="10" fill="#ebf4fd" stroke="#102648" stroke-width="0.8"/>
<path d="M676.60,894.30 L676.60,894.57 L676.59,894.85 L676.58,895.12 L676.57,895.40 L676.56,895.67 L676.54,895.95 L676.51,896.22 L676.48,896.50 L676.45,896.77 L676.39,897.04 L676.05,897.27 L675.46,897.45 L674.71,897.58 L673.88,897.69 L673.07,897.77 L672.37,897.86 L671.86,897.98 L671.64,898.15 L671.59,898.36 L671.54,898.57 L671.48,898.78 L671.42,898.99 L671.36,899.19 L671.29,899.40 L671.22,899.60 L671.15,899.81 L671.08,900.01 L671.00,900.21 L670.93,900.41 L670.84,900.61 L670.76,900.81 L670.67,901.01 L670.58,901.21 L670.49,901.40 L670.40,901.60 L670.30,901.79 L670.20,901.98 L670.10,902.17 L670.00,902.36 L669.89,902.55 L669.78,902.74 L669.67,902.92 L669.70,903.20 L669.98,903.64 L670.41,904.20 L670.92,904.83 L671.43,905.49 L671.87,906.12 L672.16,906.67 L672.24,907.07 L672.09,907.30 L671.92,907.52 L671.75,907.73 L671.57,907.94 L671.39,908.15 L671.21,908.35 L671.02,908.55 L670.83,908.76 L670.64,908.95 L670.45,909.15 L670.25,909.34 L670.06,909.53 L669.85,909.72 L669.65,909.91 L669.45,910.09 L669.24,910.27 L669.03,910.45 L668.82,910.62 L668.60,910.79 L668.37,910.94 L667.97,910.86 L667.42,910.57 L666.79,910.13 L666.13,909.62 L665.50,909.11 L664.94,908.68 L664.50,908.40 L664.22,908.37 L664.04,908.48 L663.85,908.59 L663.66,908.70 L663.47,908.80 L663.28,908.90 L663.09,909.00 L662.90,909.10 L662.70,909.19 L662.51,909.28 L662.31,909.37 L662.11,909.46 L661.91,909.54 L661.71,909.63 L661.51,909.70 L661.31,909.78 L661.11,909.85 L660.90,909.92 L660.70,909.99 L660.49,910.06 L660.29,910.12 L660.08,910.18 L659.87,910.24 L659.66,910.29 L659.45,910.34 L659.28,910.56 L659.16,911.07 L659.07,911.77 L658.99,912.58 L658.88,913.41 L658.75,914.16 L658.57,914.75 L658.34,915.09 L658.07,915.15 L657.80,915.18 L657.52,915.21 L657.25,915.24 L656.97,915.26 L656.70,915.27 L656.42,915.28 L656.15,915.29 L655.87,915.30 L655.60,915.30 L655.33,915.30 L655.05,915.29 L654.78,915.28 L654.50,915.27 L654.23,915.26 L653.95,915.24 L653.68,915.21 L653.40,915.18 L653.13,915.15 L652.86,915.09 L652.63,914.75 L652.45,914.16 L652.32,913.41 L652.21,912.58 L652.13,911.77 L652.04,911.07 L651.92,910.56 L651.75,910.34 L651.54,910.29 L651.33,910.24 L651.12,910.18 L650.91,910.12 L650.71,910.06 L650.50,909.99 L650.30,909.92 L650.09,909.85 L649.89,909.78 L649.69,909.70 L649.49,909.63 L649.29,909.54 L649.09,909.46 L648.89,909.37 L648.69,909.28 L648.50,909.19 L648.30,909.10 L648.11,909.00 L647.92,908.90 L647.73,908.80 L647.54,908.70 L647.35,908.59 L647.16,908.48 L646.98,908.37 L646.70,908.40 L646.26,908.68 L645.70,909.11 L645.07,909.62 L644.41,910.13 L643.78,910.57 L643.23,910.86 L642.83,910.94 L642.60,910.79 L642.38,910.62 L642.17,910.45 L641.96,910.27 L641.75,910.09 L641.55,909.91 L641.35,909.72 L641.14,909.53 L640.95,909.34 L640.75,909.15 L640.56,908.95 L640.37,908.76 L640.18,908.55 L639.99,908.35 L639.81,908.15 L639.63,907.94 L639.45,907.73 L639.28,907.52 L639.11,907.30 L638.96,907.07 L639.04,906.67 L639.33,906.12 L639.77,905.49 L640.28,904.83 L640.79,904.20 L641.22,903.64 L641.50,903.20 L641.53,902.92 L641.42,902.74 L641.31,902.55 L641.20,902.36 L641.10,902.17 L641.00,901.98 L640.90,901.79 L640.80,901.60 L640.71,901.40 L640.62,901.21 L640.53,901.01 L640.44,900.81 L640.36,900.61 L640.27,900.41 L640.20,900.21 L640.12,900.01 L640.05,899.81 L639.98,899.60 L639.91,899.40 L639.84,899.19 L639.78,898.99 L639.72,898.78 L639.66,898.57 L639.61,898.36 L639.56,898.15 L639.34,897.98 L638.83,897.86 L638.13,897.77 L637.32,897.69 L636.49,897.58 L635.74,897.45 L635.15,897.27 L634.81,897.04 L634.75,896.77 L634.72,896.50 L634.69,896.22 L634.66,895.95 L634.64,895.67 L634.63,895.40 L634.62,895.12 L634.61,894.85 L634.60,894.57 L634.60,894.30 L634.60,894.03 L634.61,893.75 L634.62,893.48 L634.63,893.20 L634.64,892.93 L634.66,892.65 L634.69,892.38 L634.72,892.10 L634.75,891.83 L634.81,891.56 L635.15,891.33 L635.74,891.15 L636.49,891.02 L637.32,890.91 L638.13,890.83 L638.83,890.74 L639.34,890.62 L639.56,890.45 L639.61,890.24 L639.66,890.03 L639.72,889.82 L639.78,889.61 L639.84,889.41 L639.91,889.20 L639.98,889.00 L640.05,888.79 L640.12,888.59 L640.20,888.39 L640.27,888.19 L640.36,887.99 L640.44,887.79 L640.53,887.59 L640.62,887.39 L640.71,887.20 L640.80,887.00 L640.90,886.81 L641.00,886.62 L641.10,886.43 L641.20,886.24 L641.31,886.05 L641.42,885.86 L641.53,885.68 L641.50,885.40 L641.22,884.96 L640.79,884.40 L640.28,883.77 L639.77,883.11 L639.33,882.48 L639.04,881.93 L638.96,881.53 L639.11,881.30 L639.28,881.08 L639.45,880.87 L639.63,880.66 L639.81,880.45 L639.99,880.25 L640.18,880.05 L640.37,879.84 L640.56,879.65 L640.75,879.45 L640.95,879.26 L641.14,879.07 L641.35,878.88 L641.55,878.69 L641.75,878.51 L641.96,878.33 L642.17,878.15 L642.38,877.98 L642.60,877.81 L642.83,877.66 L643.23,877.74 L643.78,878.03 L644.41,878.47 L645.07,878.98 L645.70,879.49 L646.26,879.92 L646.70,880.20 L646.98,880.23 L647.16,880.12 L647.35,880.01 L647.54,879.90 L647.73,879.80 L647.92,879.70 L648.11,879.60 L648.30,879.50 L648.50,879.41 L648.69,879.32 L648.89,879.23 L649.09,879.14 L649.29,879.06 L649.49,878.97 L649.69,878.90 L649.89,878.82 L650.09,878.75 L650.30,878.68 L650.50,878.61 L650.71,878.54 L650.91,878.48 L651.12,878.42 L651.33,878.36 L651.54,878.31 L651.75,878.26 L651.92,878.04 L652.04,877.53 L652.13,876.83 L652.21,876.02 L652.32,875.19 L652.45,874.44 L652.63,873.85 L652.86,873.51 L653.13,873.45 L653.40,873.42 L653.68,873.39 L653.95,873.36 L654.23,873.34 L654.50,873.33 L654.78,873.32 L655.05,873.31 L655.33,873.30 L655.60,873.30 L655.87,873.30 L656.15,873.31 L656.42,873.32 L656.70,873.33 L656.97,873.34 L657.25,873.36 L657.52,873.39 L657.80,873.42 L658.07,873.45 L658.34,873.51 L658.57,873.85 L658.75,874.44 L658.88,875.19 L658.99,876.02 L659.07,876.83 L659.16,877.53 L659.28,878.04 L659.45,878.26 L659.66,878.31 L659.87,878.36 L660.08,878.42 L660.29,878.48 L660.49,878.54 L660.70,878.61 L660.90,878.68 L661.11,878.75 L661.31,878.82 L661.51,878.90 L661.71,878.97 L661.91,879.06 L662.11,879.14 L662.31,879.23 L662.51,879.32 L662.70,879.41 L662.90,879.50 L663.09,879.60 L663.28,879.70 L663.47,879.80 L663.66,879.90 L663.85,880.01 L664.04,880.12 L664.22,880.23 L664.50,880.20 L664.94,879.92 L665.50,879.49 L666.13,878.98 L666.79,878.47 L667.42,878.03 L667.97,877.74 L668.37,877.66 L668.60,877.81 L668.82,877.98 L669.03,878.15 L669.24,878.33 L669.45,878.51 L669.65,878.69 L669.85,878.88 L670.06,879.07 L670.25,879.26 L670.45,879.45 L670.64,879.65 L670.83,879.84 L671.02,880.05 L671.21,880.25 L671.39,880.45 L671.57,880.66 L671.75,880.87 L671.92,881.08 L672.09,881.30 L672.24,881.53 L672.16,881.93 L671.87,882.48 L671.43,883.11 L670.92,883.77 L670.41,884.40 L669.98,884.96 L669.70,885.40 L669.67,885.68 L669.78,885.86 L669.89,886.05 L670.00,886.24 L670.10,886.43 L670.20,886.62 L670.30,886.81 L670.40,887.00 L670.49,887.20 L670.58,887.39 L670.67,887.59 L670.76,887.79 L670.84,887.99 L670.93,888.19 L671.00,888.39 L671.08,888.59 L671.15,888.79 L671.22,889.00 L671.29,889.20 L671.36,889.41 L671.42,889.61 L671.48,889.82 L671.54,890.03 L671.59,890.24 L671.64,890.45 L671.86,890.62 L672.37,890.74 L673.07,890.83 L673.88,890.91 L674.71,891.02 L675.46,891.15 L676.05,891.33 L676.39,891.56 L676.45,891.83 L676.48,892.10 L676.51,892.38 L676.54,892.65 L676.56,892.93 L676.57,893.20 L676.58,893.48 L676.59,893.75 L676.60,894.03Z" fill="#0d8fe4" stroke="#102648" stroke-width="0.6" stroke-linejoin="round"/>
<circle cx="655.6" cy="894.3" r="9.3" fill="#ebf4fd" stroke="#102648" stroke-width="0.6"/>
<rect x="606.5" y="917.2" width="99.6" height="38" rx="19" fill="#f2f8fe" stroke="#1a8ae0" stroke-width="2.6"/>
<rect x="639" y="914.5" width="33" height="6" fill="#f0f7fe"/>
<rect x="760.6" y="888" width="8.4" height="29" rx="3" fill="#ebf4fd" stroke="#102648" stroke-width="1.6"/>
<rect x="814.6" y="888" width="8.4" height="29" rx="3" fill="#ebf4fd" stroke="#102648" stroke-width="1.6"/>
<path d="M770.6,873 Q771.6,862.5 791.6,862.5 Q811.6,862.5 812.6,873" fill="#ebf4fd" stroke="#102648" stroke-width="1.6"/>
<circle cx="791.6" cy="892.0" r="26.5" fill="#eef6fd"/>
<path d="M765.4,895.7 A26.5,26.5 0 1 1 817.8,895.7" fill="none" stroke="#34a853" stroke-width="2"/>
<line x1="766.1" y1="838" x2="766.1" y2="861" stroke="#102648" stroke-width="1.6"/>
<rect x="761.6" y="860.5" width="7.5" height="9.5" rx="2" fill="#ebf4fd" stroke="#102648" stroke-width="1.6"/>
<line x1="817.1" y1="838" x2="817.1" y2="861" stroke="#102648" stroke-width="1.6"/>
<rect x="814.1" y="860.5" width="7.5" height="9.5" rx="2" fill="#ebf4fd" stroke="#102648" stroke-width="1.6"/>
<line x1="791.6" y1="810" x2="791.6" y2="820" stroke="#102648" stroke-width="1.5"/>
<circle cx="791.6" cy="807" r="3" fill="#ebf4fd" stroke="#34a853" stroke-width="1.8"/>
<path d="M779.6,826 Q780.6,819.5 791.6,819.5 Q802.6,819.5 803.6,826" fill="#e3eef9" stroke="#102648" stroke-width="1.6"/>
<rect x="784.1" y="850" width="15" height="12" fill="#ebf4fd" stroke="#102648" stroke-width="1.6"/>
<rect x="764.6" y="834.5" width="6.5" height="8.5" rx="2" fill="#ebf4fd" stroke="#102648" stroke-width="1.3"/>
<rect x="812.1" y="834.5" width="6.5" height="8.5" rx="2" fill="#ebf4fd" stroke="#102648" stroke-width="1.3"/>
<rect x="770.9" y="825.8" width="41.3" height="24.6" rx="6" fill="#ebf4fd" stroke="#102648" stroke-width="1.6"/>
<rect x="777.0" y="833.7" width="29" height="9.6" rx="4.8" fill="#e3eef9" stroke="#102648" stroke-width="1.4"/>
<circle cx="781.4" cy="838.5" r="3.3" fill="#a9dcb4" stroke="#102648" stroke-width="1"/>
<circle cx="801.6" cy="838.5" r="3.3" fill="#ebf4fd" stroke="#102648" stroke-width="1"/>
<path d="M813.20,894.30 L813.20,894.57 L813.19,894.85 L813.18,895.12 L813.17,895.40 L813.16,895.67 L813.14,895.95 L813.11,896.22 L813.08,896.50 L813.05,896.77 L812.99,897.04 L812.65,897.27 L812.06,897.45 L811.31,897.58 L810.48,897.69 L809.67,897.77 L808.97,897.86 L808.46,897.98 L808.24,898.15 L808.19,898.36 L808.14,898.57 L808.08,898.78 L808.02,898.99 L807.96,899.19 L807.89,899.40 L807.82,899.60 L807.75,899.81 L807.68,900.01 L807.60,900.21 L807.53,900.41 L807.44,900.61 L807.36,900.81 L807.27,901.01 L807.18,901.21 L807.09,901.40 L807.00,901.60 L806.90,901.79 L806.80,901.98 L806.70,902.17 L806.60,902.36 L806.49,902.55 L806.38,902.74 L806.27,902.92 L806.30,903.20 L806.58,903.64 L807.01,904.20 L807.52,904.83 L808.03,905.49 L808.47,906.12 L808.76,906.67 L808.84,907.07 L808.69,907.30 L808.52,907.52 L808.35,907.73 L808.17,907.94 L807.99,908.15 L807.81,908.35 L807.62,908.55 L807.43,908.76 L807.24,908.95 L807.05,909.15 L806.85,909.34 L806.66,909.53 L806.45,909.72 L806.25,909.91 L806.05,910.09 L805.84,910.27 L805.63,910.45 L805.42,910.62 L805.20,910.79 L804.97,910.94 L804.57,910.86 L804.02,910.57 L803.39,910.13 L802.73,909.62 L802.10,909.11 L801.54,908.68 L801.10,908.40 L800.82,908.37 L800.64,908.48 L800.45,908.59 L800.26,908.70 L800.07,908.80 L799.88,908.90 L799.69,909.00 L799.50,909.10 L799.30,909.19 L799.11,909.28 L798.91,909.37 L798.71,909.46 L798.51,909.54 L798.31,909.63 L798.11,909.70 L797.91,909.78 L797.71,909.85 L797.50,909.92 L797.30,909.99 L797.09,910.06 L796.89,910.12 L796.68,910.18 L796.47,910.24 L796.26,910.29 L796.05,910.34 L795.88,910.56 L795.76,911.07 L795.67,911.77 L795.59,912.58 L795.48,913.41 L795.35,914.16 L795.17,914.75 L794.94,915.09 L794.67,915.15 L794.40,915.18 L794.12,915.21 L793.85,915.24 L793.57,915.26 L793.30,915.27 L793.02,915.28 L792.75,915.29 L792.47,915.30 L792.20,915.30 L791.93,915.30 L791.65,915.29 L791.38,915.28 L791.10,915.27 L790.83,915.26 L790.55,915.24 L790.28,915.21 L790.00,915.18 L789.73,915.15 L789.46,915.09 L789.23,914.75 L789.05,914.16 L788.92,913.41 L788.81,912.58 L788.73,911.77 L788.64,911.07 L788.52,910.56 L788.35,910.34 L788.14,910.29 L787.93,910.24 L787.72,910.18 L787.51,910.12 L787.31,910.06 L787.10,909.99 L786.90,909.92 L786.69,909.85 L786.49,909.78 L786.29,909.70 L786.09,909.63 L785.89,909.54 L785.69,909.46 L785.49,909.37 L785.29,909.28 L785.10,909.19 L784.90,909.10 L784.71,909.00 L784.52,908.90 L784.33,908.80 L784.14,908.70 L783.95,908.59 L783.76,908.48 L783.58,908.37 L783.30,908.40 L782.86,908.68 L782.30,909.11 L781.67,909.62 L781.01,910.13 L780.38,910.57 L779.83,910.86 L779.43,910.94 L779.20,910.79 L778.98,910.62 L778.77,910.45 L778.56,910.27 L778.35,910.09 L778.15,909.91 L777.95,909.72 L777.74,909.53 L777.55,909.34 L777.35,909.15 L777.16,908.95 L776.97,908.76 L776.78,908.55 L776.59,908.35 L776.41,908.15 L776.23,907.94 L776.05,907.73 L775.88,907.52 L775.71,907.30 L775.56,907.07 L775.64,906.67 L775.93,906.12 L776.37,905.49 L776.88,904.83 L777.39,904.20 L777.82,903.64 L778.10,903.20 L778.13,902.92 L778.02,902.74 L777.91,902.55 L777.80,902.36 L777.70,902.17 L777.60,901.98 L777.50,901.79 L777.40,901.60 L777.31,901.40 L777.22,901.21 L777.13,901.01 L777.04,900.81 L776.96,900.61 L776.87,900.41 L776.80,900.21 L776.72,900.01 L776.65,899.81 L776.58,899.60 L776.51,899.40 L776.44,899.19 L776.38,898.99 L776.32,898.78 L776.26,898.57 L776.21,898.36 L776.16,898.15 L775.94,897.98 L775.43,897.86 L774.73,897.77 L773.92,897.69 L773.09,897.58 L772.34,897.45 L771.75,897.27 L771.41,897.04 L771.35,896.77 L771.32,896.50 L771.29,896.22 L771.26,895.95 L771.24,895.67 L771.23,895.40 L771.22,895.12 L771.21,894.85 L771.20,894.57 L771.20,894.30 L771.20,894.03 L771.21,893.75 L771.22,893.48 L771.23,893.20 L771.24,892.93 L771.26,892.65 L771.29,892.38 L771.32,892.10 L771.35,891.83 L771.41,891.56 L771.75,891.33 L772.34,891.15 L773.09,891.02 L773.92,890.91 L774.73,890.83 L775.43,890.74 L775.94,890.62 L776.16,890.45 L776.21,890.24 L776.26,890.03 L776.32,889.82 L776.38,889.61 L776.44,889.41 L776.51,889.20 L776.58,889.00 L776.65,888.79 L776.72,888.59 L776.80,888.39 L776.87,888.19 L776.96,887.99 L777.04,887.79 L777.13,887.59 L777.22,887.39 L777.31,887.20 L777.40,887.00 L777.50,886.81 L777.60,886.62 L777.70,886.43 L777.80,886.24 L777.91,886.05 L778.02,885.86 L778.13,885.68 L778.10,885.40 L777.82,884.96 L777.39,884.40 L776.88,883.77 L776.37,883.11 L775.93,882.48 L775.64,881.93 L775.56,881.53 L775.71,881.30 L775.88,881.08 L776.05,880.87 L776.23,880.66 L776.41,880.45 L776.59,880.25 L776.78,880.05 L776.97,879.84 L777.16,879.65 L777.35,879.45 L777.55,879.26 L777.74,879.07 L777.95,878.88 L778.15,878.69 L778.35,878.51 L778.56,878.33 L778.77,878.15 L778.98,877.98 L779.20,877.81 L779.43,877.66 L779.83,877.74 L780.38,878.03 L781.01,878.47 L781.67,878.98 L782.30,879.49 L782.86,879.92 L783.30,880.20 L783.58,880.23 L783.76,880.12 L783.95,880.01 L784.14,879.90 L784.33,879.80 L784.52,879.70 L784.71,879.60 L784.90,879.50 L785.10,879.41 L785.29,879.32 L785.49,879.23 L785.69,879.14 L785.89,879.06 L786.09,878.97 L786.29,878.90 L786.49,878.82 L786.69,878.75 L786.90,878.68 L787.10,878.61 L787.31,878.54 L787.51,878.48 L787.72,878.42 L787.93,878.36 L788.14,878.31 L788.35,878.26 L788.52,878.04 L788.64,877.53 L788.73,876.83 L788.81,876.02 L788.92,875.19 L789.05,874.44 L789.23,873.85 L789.46,873.51 L789.73,873.45 L790.00,873.42 L790.28,873.39 L790.55,873.36 L790.83,873.34 L791.10,873.33 L791.38,873.32 L791.65,873.31 L791.93,873.30 L792.20,873.30 L792.47,873.30 L792.75,873.31 L793.02,873.32 L793.30,873.33 L793.57,873.34 L793.85,873.36 L794.12,873.39 L794.40,873.42 L794.67,873.45 L794.94,873.51 L795.17,873.85 L795.35,874.44 L795.48,875.19 L795.59,876.02 L795.67,876.83 L795.76,877.53 L795.88,878.04 L796.05,878.26 L796.26,878.31 L796.47,878.36 L796.68,878.42 L796.89,878.48 L797.09,878.54 L797.30,878.61 L797.50,878.68 L797.71,878.75 L797.91,878.82 L798.11,878.90 L798.31,878.97 L798.51,879.06 L798.71,879.14 L798.91,879.23 L799.11,879.32 L799.30,879.41 L799.50,879.50 L799.69,879.60 L799.88,879.70 L800.07,879.80 L800.26,879.90 L800.45,880.01 L800.64,880.12 L800.82,880.23 L801.10,880.20 L801.54,879.92 L802.10,879.49 L802.73,878.98 L803.39,878.47 L804.02,878.03 L804.57,877.74 L804.97,877.66 L805.20,877.81 L805.42,877.98 L805.63,878.15 L805.84,878.33 L806.05,878.51 L806.25,878.69 L806.45,878.88 L806.66,879.07 L806.85,879.26 L807.05,879.45 L807.24,879.65 L807.43,879.84 L807.62,880.05 L807.81,880.25 L807.99,880.45 L808.17,880.66 L808.35,880.87 L808.52,881.08 L808.69,881.30 L808.84,881.53 L808.76,881.93 L808.47,882.48 L808.03,883.11 L807.52,883.77 L807.01,884.40 L806.58,884.96 L806.30,885.40 L806.27,885.68 L806.38,885.86 L806.49,886.05 L806.60,886.24 L806.70,886.43 L806.80,886.62 L806.90,886.81 L807.00,887.00 L807.09,887.20 L807.18,887.39 L807.27,887.59 L807.36,887.79 L807.44,887.99 L807.53,888.19 L807.60,888.39 L807.68,888.59 L807.75,888.79 L807.82,889.00 L807.89,889.20 L807.96,889.41 L808.02,889.61 L808.08,889.82 L808.14,890.03 L808.19,890.24 L808.24,890.45 L808.46,890.62 L808.97,890.74 L809.67,890.83 L810.48,890.91 L811.31,891.02 L812.06,891.15 L812.65,891.33 L812.99,891.56 L813.05,891.83 L813.08,892.10 L813.11,892.38 L813.14,892.65 L813.16,892.93 L813.17,893.20 L813.18,893.48 L813.19,893.75 L813.20,894.03Z" fill="#34a853" stroke="#34a853" stroke-width="0.6" stroke-linejoin="round"/>
<circle cx="792.2" cy="894.3" r="9.3" fill="#ebf4fd" stroke="#34a853" stroke-width="0.6"/>
<rect x="743.1" y="917.2" width="99.6" height="38" rx="19" fill="#f2f8fe" stroke="#3aa952" stroke-width="2.6"/>
<rect x="775.6" y="914.5" width="33" height="6" fill="#f0f7fe"/>
<rect x="896.8" y="888" width="8.4" height="29" rx="3" fill="#ebf4fd" stroke="#102648" stroke-width="1.6"/>
<rect x="950.8" y="888" width="8.4" height="29" rx="3" fill="#ebf4fd" stroke="#102648" stroke-width="1.6"/>
<path d="M906.8,873 Q907.8,862.5 927.8,862.5 Q947.8,862.5 948.8,873" fill="#ebf4fd" stroke="#102648" stroke-width="1.6"/>
<circle cx="927.8" cy="892.0" r="26.5" fill="#eef6fd"/>
<path d="M901.6,895.7 A26.5,26.5 0 1 1 954.0,895.7" fill="none" stroke="#f4b92c" stroke-width="2"/>
<line x1="902.3" y1="838" x2="902.3" y2="861" stroke="#102648" stroke-width="1.6"/>
<rect x="897.8" y="860.5" width="7.5" height="9.5" rx="2" fill="#ebf4fd" stroke="#102648" stroke-width="1.6"/>
<line x1="953.3" y1="838" x2="953.3" y2="861" stroke="#102648" stroke-width="1.6"/>
<rect x="950.3" y="860.5" width="7.5" height="9.5" rx="2" fill="#ebf4fd" stroke="#102648" stroke-width="1.6"/>
<line x1="927.8" y1="810" x2="927.8" y2="820" stroke="#102648" stroke-width="1.5"/>
<circle cx="927.8" cy="807" r="3" fill="#ebf4fd" stroke="#f4b92c" stroke-width="1.8"/>
<path d="M915.8,826 Q916.8,819.5 927.8,819.5 Q938.8,819.5 939.8,826" fill="#e3eef9" stroke="#102648" stroke-width="1.6"/>
<rect x="920.3" y="850" width="15" height="12" fill="#ebf4fd" stroke="#102648" stroke-width="1.6"/>
<rect x="900.8" y="834.5" width="6.5" height="8.5" rx="2" fill="#ebf4fd" stroke="#102648" stroke-width="1.3"/>
<rect x="948.3" y="834.5" width="6.5" height="8.5" rx="2" fill="#ebf4fd" stroke="#102648" stroke-width="1.3"/>
<rect x="907.0999999999999" y="825.8" width="41.3" height="24.6" rx="6" fill="#ebf4fd" stroke="#102648" stroke-width="1.6"/>
<rect x="913.1999999999999" y="833.7" width="29" height="9.6" rx="4.8" fill="#e3eef9" stroke="#102648" stroke-width="1.4"/>
<circle cx="917.5999999999999" cy="838.5" r="3.3" fill="#c9e36b" stroke="#102648" stroke-width="1"/>
<circle cx="937.8" cy="838.5" r="3.3" fill="#ebf4fd" stroke="#102648" stroke-width="1"/>
<path d="M949.40,894.30 L949.40,894.57 L949.39,894.85 L949.38,895.12 L949.37,895.40 L949.36,895.67 L949.34,895.95 L949.31,896.22 L949.28,896.50 L949.25,896.77 L949.19,897.04 L948.85,897.27 L948.26,897.45 L947.51,897.58 L946.68,897.69 L945.87,897.77 L945.17,897.86 L944.66,897.98 L944.44,898.15 L944.39,898.36 L944.34,898.57 L944.28,898.78 L944.22,898.99 L944.16,899.19 L944.09,899.40 L944.02,899.60 L943.95,899.81 L943.88,900.01 L943.80,900.21 L943.73,900.41 L943.64,900.61 L943.56,900.81 L943.47,901.01 L943.38,901.21 L943.29,901.40 L943.20,901.60 L943.10,901.79 L943.00,901.98 L942.90,902.17 L942.80,902.36 L942.69,902.55 L942.58,902.74 L942.47,902.92 L942.50,903.20 L942.78,903.64 L943.21,904.20 L943.72,904.83 L944.23,905.49 L944.67,906.12 L944.96,906.67 L945.04,907.07 L944.89,907.30 L944.72,907.52 L944.55,907.73 L944.37,907.94 L944.19,908.15 L944.01,908.35 L943.82,908.55 L943.63,908.76 L943.44,908.95 L943.25,909.15 L943.05,909.34 L942.86,909.53 L942.65,909.72 L942.45,909.91 L942.25,910.09 L942.04,910.27 L941.83,910.45 L941.62,910.62 L941.40,910.79 L941.17,910.94 L940.77,910.86 L940.22,910.57 L939.59,910.13 L938.93,909.62 L938.30,909.11 L937.74,908.68 L937.30,908.40 L937.02,908.37 L936.84,908.48 L936.65,908.59 L936.46,908.70 L936.27,908.80 L936.08,908.90 L935.89,909.00 L935.70,909.10 L935.50,909.19 L935.31,909.28 L935.11,909.37 L934.91,909.46 L934.71,909.54 L934.51,909.63 L934.31,909.70 L934.11,909.78 L933.91,909.85 L933.70,909.92 L933.50,909.99 L933.29,910.06 L933.09,910.12 L932.88,910.18 L932.67,910.24 L932.46,910.29 L932.25,910.34 L932.08,910.56 L931.96,911.07 L931.87,911.77 L931.79,912.58 L931.68,913.41 L931.55,914.16 L931.37,914.75 L931.14,915.09 L930.87,915.15 L930.60,915.18 L930.32,915.21 L930.05,915.24 L929.77,915.26 L929.50,915.27 L929.22,915.28 L928.95,915.29 L928.67,915.30 L928.40,915.30 L928.13,915.30 L927.85,915.29 L927.58,915.28 L927.30,915.27 L927.03,915.26 L926.75,915.24 L926.48,915.21 L926.20,915.18 L925.93,915.15 L925.66,915.09 L925.43,914.75 L925.25,914.16 L925.12,913.41 L925.01,912.58 L924.93,911.77 L924.84,911.07 L924.72,910.56 L924.55,910.34 L924.34,910.29 L924.13,910.24 L923.92,910.18 L923.71,910.12 L923.51,910.06 L923.30,909.99 L923.10,909.92 L922.89,909.85 L922.69,909.78 L922.49,909.70 L922.29,909.63 L922.09,909.54 L921.89,909.46 L921.69,909.37 L921.49,909.28 L921.30,909.19 L921.10,909.10 L920.91,909.00 L920.72,908.90 L920.53,908.80 L920.34,908.70 L920.15,908.59 L919.96,908.48 L919.78,908.37 L919.50,908.40 L919.06,908.68 L918.50,909.11 L917.87,909.62 L917.21,910.13 L916.58,910.57 L916.03,910.86 L915.63,910.94 L915.40,910.79 L915.18,910.62 L914.97,910.45 L914.76,910.27 L914.55,910.09 L914.35,909.91 L914.15,909.72 L913.94,909.53 L913.75,909.34 L913.55,909.15 L913.36,908.95 L913.17,908.76 L912.98,908.55 L912.79,908.35 L912.61,908.15 L912.43,907.94 L912.25,907.73 L912.08,907.52 L911.91,907.30 L911.76,907.07 L911.84,906.67 L912.13,906.12 L912.57,905.49 L913.08,904.83 L913.59,904.20 L914.02,903.64 L914.30,903.20 L914.33,902.92 L914.22,902.74 L914.11,902.55 L914.00,902.36 L913.90,902.17 L913.80,901.98 L913.70,901.79 L913.60,901.60 L913.51,901.40 L913.42,901.21 L913.33,901.01 L913.24,900.81 L913.16,900.61 L913.07,900.41 L913.00,900.21 L912.92,900.01 L912.85,899.81 L912.78,899.60 L912.71,899.40 L912.64,899.19 L912.58,898.99 L912.52,898.78 L912.46,898.57 L912.41,898.36 L912.36,898.15 L912.14,897.98 L911.63,897.86 L910.93,897.77 L910.12,897.69 L909.29,897.58 L908.54,897.45 L907.95,897.27 L907.61,897.04 L907.55,896.77 L907.52,896.50 L907.49,896.22 L907.46,895.95 L907.44,895.67 L907.43,895.40 L907.42,895.12 L907.41,894.85 L907.40,894.57 L907.40,894.30 L907.40,894.03 L907.41,893.75 L907.42,893.48 L907.43,893.20 L907.44,892.93 L907.46,892.65 L907.49,892.38 L907.52,892.10 L907.55,891.83 L907.61,891.56 L907.95,891.33 L908.54,891.15 L909.29,891.02 L910.12,890.91 L910.93,890.83 L911.63,890.74 L912.14,890.62 L912.36,890.45 L912.41,890.24 L912.46,890.03 L912.52,889.82 L912.58,889.61 L912.64,889.41 L912.71,889.20 L912.78,889.00 L912.85,888.79 L912.92,888.59 L913.00,888.39 L913.07,888.19 L913.16,887.99 L913.24,887.79 L913.33,887.59 L913.42,887.39 L913.51,887.20 L913.60,887.00 L913.70,886.81 L913.80,886.62 L913.90,886.43 L914.00,886.24 L914.11,886.05 L914.22,885.86 L914.33,885.68 L914.30,885.40 L914.02,884.96 L913.59,884.40 L913.08,883.77 L912.57,883.11 L912.13,882.48 L911.84,881.93 L911.76,881.53 L911.91,881.30 L912.08,881.08 L912.25,880.87 L912.43,880.66 L912.61,880.45 L912.79,880.25 L912.98,880.05 L913.17,879.84 L913.36,879.65 L913.55,879.45 L913.75,879.26 L913.94,879.07 L914.15,878.88 L914.35,878.69 L914.55,878.51 L914.76,878.33 L914.97,878.15 L915.18,877.98 L915.40,877.81 L915.63,877.66 L916.03,877.74 L916.58,878.03 L917.21,878.47 L917.87,878.98 L918.50,879.49 L919.06,879.92 L919.50,880.20 L919.78,880.23 L919.96,880.12 L920.15,880.01 L920.34,879.90 L920.53,879.80 L920.72,879.70 L920.91,879.60 L921.10,879.50 L921.30,879.41 L921.49,879.32 L921.69,879.23 L921.89,879.14 L922.09,879.06 L922.29,878.97 L922.49,878.90 L922.69,878.82 L922.89,878.75 L923.10,878.68 L923.30,878.61 L923.51,878.54 L923.71,878.48 L923.92,878.42 L924.13,878.36 L924.34,878.31 L924.55,878.26 L924.72,878.04 L924.84,877.53 L924.93,876.83 L925.01,876.02 L925.12,875.19 L925.25,874.44 L925.43,873.85 L925.66,873.51 L925.93,873.45 L926.20,873.42 L926.48,873.39 L926.75,873.36 L927.03,873.34 L927.30,873.33 L927.58,873.32 L927.85,873.31 L928.13,873.30 L928.40,873.30 L928.67,873.30 L928.95,873.31 L929.22,873.32 L929.50,873.33 L929.77,873.34 L930.05,873.36 L930.32,873.39 L930.60,873.42 L930.87,873.45 L931.14,873.51 L931.37,873.85 L931.55,874.44 L931.68,875.19 L931.79,876.02 L931.87,876.83 L931.96,877.53 L932.08,878.04 L932.25,878.26 L932.46,878.31 L932.67,878.36 L932.88,878.42 L933.09,878.48 L933.29,878.54 L933.50,878.61 L933.70,878.68 L933.91,878.75 L934.11,878.82 L934.31,878.90 L934.51,878.97 L934.71,879.06 L934.91,879.14 L935.11,879.23 L935.31,879.32 L935.50,879.41 L935.70,879.50 L935.89,879.60 L936.08,879.70 L936.27,879.80 L936.46,879.90 L936.65,880.01 L936.84,880.12 L937.02,880.23 L937.30,880.20 L937.74,879.92 L938.30,879.49 L938.93,878.98 L939.59,878.47 L940.22,878.03 L940.77,877.74 L941.17,877.66 L941.40,877.81 L941.62,877.98 L941.83,878.15 L942.04,878.33 L942.25,878.51 L942.45,878.69 L942.65,878.88 L942.86,879.07 L943.05,879.26 L943.25,879.45 L943.44,879.65 L943.63,879.84 L943.82,880.05 L944.01,880.25 L944.19,880.45 L944.37,880.66 L944.55,880.87 L944.72,881.08 L944.89,881.30 L945.04,881.53 L944.96,881.93 L944.67,882.48 L944.23,883.11 L943.72,883.77 L943.21,884.40 L942.78,884.96 L942.50,885.40 L942.47,885.68 L942.58,885.86 L942.69,886.05 L942.80,886.24 L942.90,886.43 L943.00,886.62 L943.10,886.81 L943.20,887.00 L943.29,887.20 L943.38,887.39 L943.47,887.59 L943.56,887.79 L943.64,887.99 L943.73,888.19 L943.80,888.39 L943.88,888.59 L943.95,888.79 L944.02,889.00 L944.09,889.20 L944.16,889.41 L944.22,889.61 L944.28,889.82 L944.34,890.03 L944.39,890.24 L944.44,890.45 L944.66,890.62 L945.17,890.74 L945.87,890.83 L946.68,890.91 L947.51,891.02 L948.26,891.15 L948.85,891.33 L949.19,891.56 L949.25,891.83 L949.28,892.10 L949.31,892.38 L949.34,892.65 L949.36,892.93 L949.37,893.20 L949.38,893.48 L949.39,893.75 L949.40,894.03Z" fill="#f4b92c" stroke="#f4b92c" stroke-width="0.6" stroke-linejoin="round"/>
<circle cx="928.4" cy="894.3" r="9.3" fill="#ebf4fd" stroke="#f4b92c" stroke-width="0.6"/>
<rect x="879.3" y="917.2" width="99.6" height="38" rx="19" fill="#f2f8fe" stroke="#f2b928" stroke-width="2.6"/>
<rect x="911.8" y="914.5" width="33" height="6" fill="#f0f7fe"/>
<text x="619.6" y="942.7" font-size="17.5" font-weight="700" fill="#1a3158" textLength="73.0" lengthAdjust="spacingAndGlyphs">Worker 1</text>
<text x="755.9" y="942.7" font-size="17.5" font-weight="700" fill="#1a3158" textLength="75.6" lengthAdjust="spacingAndGlyphs">Worker 2</text>
<text x="892" y="942.7" font-size="17.5" font-weight="700" fill="#1a3158" textLength="75.7" lengthAdjust="spacingAndGlyphs">Worker 3</text>
<line x1="695.5" y1="853" x2="748.5" y2="853" stroke="#102648" stroke-width="1.8"/>
<path d="M742.0,846.8 L748.5,853 L742.0,859.2" fill="none" stroke="#102648" stroke-width="1.8" stroke-linecap="round" stroke-linejoin="round"/>
<line x1="830.6" y1="853" x2="883.5" y2="853" stroke="#102648" stroke-width="1.8"/>
<path d="M877.0,846.8 L883.5,853 L877.0,859.2" fill="none" stroke="#102648" stroke-width="1.8" stroke-linecap="round" stroke-linejoin="round"/>
<rect x="59.3" y="841.6" width="386" height="102.6" rx="6" fill="#e9f3fc" stroke="#102648" stroke-width="2"/>
<circle cx="57.8" cy="870.2" r="13.3" fill="#e9f3fc" stroke="#102648" stroke-width="2"/>
<path d="M50.2,868.2 L57,876.8 L76.5,853.5" fill="none" stroke="#102648" stroke-width="3.4" stroke-linecap="butt" stroke-linejoin="miter"/>
<text x="77.6" y="874" font-size="20" fill="#1a3158" textLength="285.6" lengthAdjust="spacingAndGlyphs"><tspan font-weight="700">Result:</tspan><tspan stroke="#1a3158" stroke-width="0.35"> Order Maintaned Within</tspan></text>
<text x="76.2" y="899.3" font-size="20" font-weight="400" fill="#1a3158" textLength="352.0" lengthAdjust="spacingAndGlyphs" stroke="#1a3158" stroke-width="0.35">Channels. Paralelism Between Channels.</text>
<text x="76.2" y="924.5" font-size="20" font-weight="400" fill="#1a3158" textLength="173.0" lengthAdjust="spacingAndGlyphs" stroke="#1a3158" stroke-width="0.35">Consistency Inside.</text>
<path d="M968,944.5 Q970.5,965.5 991.5,968 Q970.5,970.5 968,991.5 Q965.5,970.5 944.5,968 Q965.5,965.5 968,944.5Z" fill="#ffffff" opacity="0.5"/>
</svg></body></html>
